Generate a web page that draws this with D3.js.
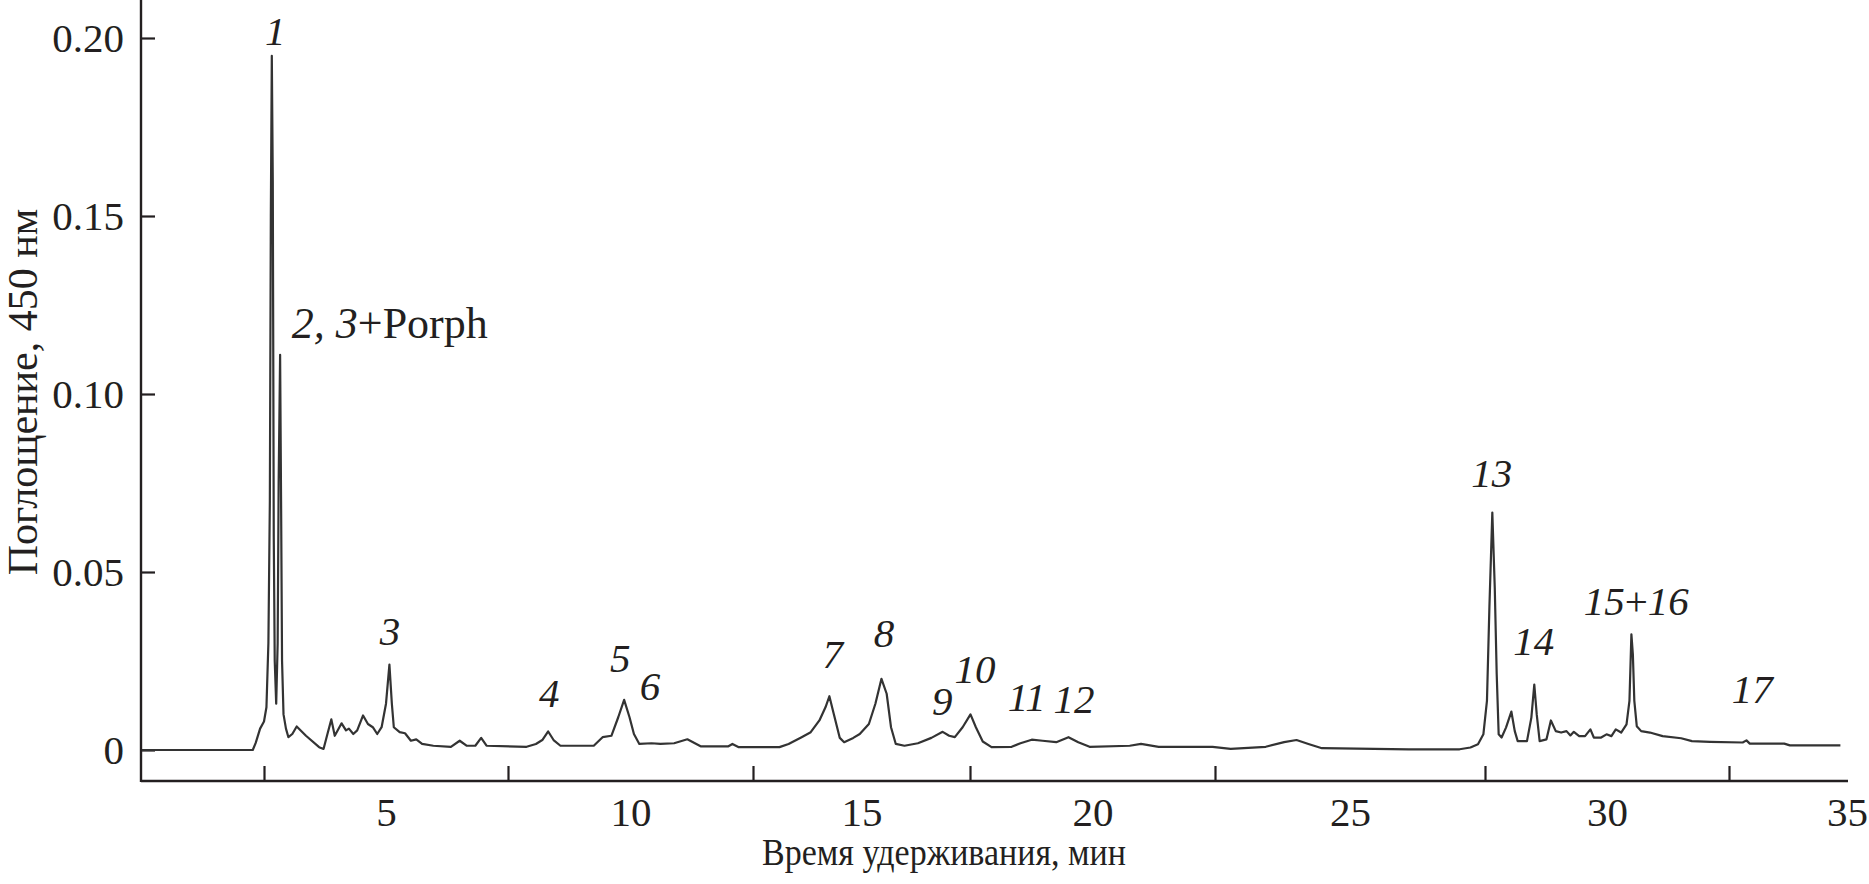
<!DOCTYPE html>
<html>
<head>
<meta charset="utf-8">
<script src="https://cdn.jsdelivr.net/npm/d3@7"></script>
<style>
  html, body { margin: 0; padding: 0; background: #fff; }
  svg { display: block; }
  text { font-family: "Liberation Serif", "Times New Roman", serif; fill: #231f20; }
</style>
</head>
<body>
<svg id="chart" width="1869" height="884"></svg>
<script>
// ---- data ----
const times = [0, 2.27, 2.33, 2.42, 2.5, 2.55, 2.59, 2.62, 2.64, 2.66, 2.68, 2.70, 2.72, 2.75, 2.78, 2.80, 2.83, 2.85, 2.87, 2.90, 2.95, 3.0, 3.08, 3.17, 3.36, 3.63, 3.72, 3.8, 3.88, 3.95, 4.09, 4.18, 4.24, 4.33, 4.41, 4.53, 4.63, 4.73, 4.82, 4.91, 5.0, 5.07, 5.12, 5.16, 5.28, 5.39, 5.51, 5.62, 5.74, 5.97, 6.33, 6.51, 6.65, 6.83, 6.95, 7.06, 7.88, 8.07, 8.2, 8.32, 8.43, 8.57, 9.25, 9.43, 9.61, 9.75, 9.87, 9.98, 10.07, 10.18, 10.43, 10.61, 10.89, 11.16, 11.44, 11.99, 12.08, 12.21, 13.11, 13.32, 13.62, 13.83, 14.03, 14.17, 14.26, 14.36, 14.5, 14.6, 14.81, 14.96, 15.17, 15.32, 15.46, 15.58, 15.68, 15.79, 15.99, 16.3, 16.61, 16.87, 17.02, 17.15, 17.33, 17.51, 17.62, 17.76, 17.94, 18.35, 18.53, 18.76, 18.98, 19.26, 19.51, 19.71, 19.94, 20.76, 20.99, 21.35, 22.45, 22.79, 23.44, 23.78, 24.01, 24.23, 24.48, 26.09, 27.03, 27.23, 27.37, 27.47, 27.54, 27.59, 27.65, 27.7, 27.74, 27.78, 27.84, 27.93, 28.04, 28.11, 28.17, 28.36, 28.45, 28.51, 28.56, 28.62, 28.76, 28.85, 28.95, 29.06, 29.17, 29.25, 29.32, 29.43, 29.55, 29.66, 29.73, 29.88, 29.99, 30.09, 30.18, 30.29, 30.4, 30.46, 30.5, 30.53, 30.56, 30.61, 30.7, 30.88, 31.14, 31.52, 31.74, 32.11, 32.79, 32.87, 32.94, 33.67, 33.79, 34.86];
const absorbance = [0, 0, 0.002, 0.006, 0.008, 0.012, 0.03, 0.07, 0.15, 0.195, 0.16, 0.06, 0.025, 0.013, 0.03, 0.075, 0.111, 0.07, 0.025, 0.01, 0.006, 0.0036, 0.0045, 0.0066, 0.004, 0.0008, 0.0003, 0.0045, 0.0086, 0.004, 0.0075, 0.0055, 0.006, 0.0045, 0.0055, 0.0097, 0.0073, 0.0064, 0.0045, 0.0064, 0.013, 0.024, 0.013, 0.0064, 0.005, 0.0047, 0.0026, 0.003, 0.0017, 0.0012, 0.0009, 0.0026, 0.0012, 0.0012, 0.0034, 0.0012, 0.0009, 0.0017, 0.0028, 0.0052, 0.0028, 0.0012, 0.0012, 0.0036, 0.004, 0.0092, 0.0141, 0.0092, 0.0045, 0.0017, 0.0019, 0.0017, 0.0019, 0.003, 0.001, 0.001, 0.0017, 0.0008, 0.0008, 0.0017, 0.0036, 0.005, 0.0083, 0.012, 0.0151, 0.0102, 0.0034, 0.0022, 0.0034, 0.0045, 0.0073, 0.013, 0.02, 0.0158, 0.0064, 0.0017, 0.0012, 0.0019, 0.0034, 0.0051, 0.004, 0.0036, 0.0064, 0.01, 0.0064, 0.0024, 0.0008, 0.0009, 0.0019, 0.0029, 0.0026, 0.0022, 0.0036, 0.0022, 0.0009, 0.0012, 0.0017, 0.0009, 0.0009, 0.0003, 0.0009, 0.0022, 0.0028, 0.0017, 0.0005, 0.0002, 0.0002, 0.0007, 0.0016, 0.0044, 0.0138, 0.04, 0.0667, 0.0456, 0.0213, 0.0044, 0.0035, 0.0063, 0.0108, 0.0053, 0.0025, 0.0025, 0.0091, 0.0184, 0.01, 0.0025, 0.003, 0.0083, 0.0053, 0.0049, 0.0053, 0.0041, 0.0051, 0.0039, 0.0039, 0.0058, 0.0035, 0.0035, 0.0044, 0.0039, 0.0058, 0.0049, 0.0072, 0.0138, 0.0325, 0.0269, 0.0138, 0.0067, 0.0053, 0.0049, 0.0039, 0.0033, 0.0025, 0.0023, 0.0021, 0.0027, 0.0018, 0.0018, 0.0013, 0.0013];

const xTickValues  = [2.5, 7.5, 12.5, 17.5, 22.5, 27.5, 32.5];
const xLabelValues = [5, 10, 15, 20, 25, 30, 35];
const yTickValues  = [0, 0.05, 0.10, 0.15, 0.20];

// peak annotations: text parts ([text, italic]), anchor time, anchor absorbance
const peakLabels = [
  [[["1", true]], 2.73, 0.198],
  [[["2, 3", true], ["+Porph", false]], 3.07, 0.1157],
  [[["3", true]], 5.08, 0.0295],
  [[["4", true]], 8.34, 0.0121],
  [[["5", true]], 9.79, 0.0219],
  [[["6", true]], 10.4, 0.014],
  [[["7", true]], 14.34, 0.023],
  [[["8", true]], 15.52, 0.0289],
  [[["9", true]], 16.86, 0.0098],
  [[["10", true]], 17.6, 0.0188],
  [[["11", true]], 18.66, 0.011],
  [[["12", true]], 19.62, 0.0104],
  [[["13", true]], 27.64, 0.0739],
  [[["14", true]], 28.5, 0.0267],
  [[["15", true], ["+", false], ["16", true]], 30.6, 0.0379],
  [[["17", true]], 32.99, 0.0132]
];

const xTitle = "Время удерживания, мин";
const yTitle = "Поглощение, 450 нм";

// ---- scales ----
const svg = d3.select("#chart");
const x = d3.scaleLinear()
  .domain([0, 2.5, 7.5, 12.5, 17.5, 22.5, 27.5, 32.5, 35])
  .range([142, 264, 508, 753, 970, 1215, 1485, 1729, 1847]);
const y = d3.scaleLinear().domain([0, 0.2]).range([750, 38]);

const axisColor = "#231f20";
const xAxisY = 781;
const yAxisX = 141;

// ---- axes ----
const yAxisG = svg.append("g").attr("transform", `translate(${yAxisX},0)`)
  .call(d3.axisLeft(y).tickValues(yTickValues).tickSizeInner(-14).tickSizeOuter(0)
    .tickPadding(17).tickFormat(d => d === 0 ? "0" : d3.format(".2f")(d)));
yAxisG.select(".domain").remove();
yAxisG.selectAll(".tick line").attr("stroke", axisColor).attr("stroke-width", 2.2);
yAxisG.selectAll(".tick text").attr("font-size", 41).attr("fill", axisColor).attr("dy", "0.34em");

const xTickG = svg.append("g").attr("transform", `translate(0,${xAxisY})`)
  .call(d3.axisBottom(x).tickValues(xTickValues).tickSizeInner(-15).tickSizeOuter(0).tickFormat(""));
xTickG.select(".domain").remove();
xTickG.selectAll(".tick line").attr("stroke", axisColor).attr("stroke-width", 2.2);

const xLabG = svg.append("g").attr("transform", `translate(0,${xAxisY})`)
  .call(d3.axisBottom(x).tickValues(xLabelValues).tickSize(0).tickPadding(16).tickFormat(d3.format("d")));
xLabG.select(".domain").remove();
xLabG.selectAll(".tick text").attr("font-size", 41).attr("fill", axisColor);

// axis lines
svg.append("line").attr("x1", yAxisX).attr("x2", yAxisX).attr("y1", 0).attr("y2", xAxisY + 1)
  .attr("stroke", axisColor).attr("stroke-width", 2.4);
svg.append("line").attr("x1", yAxisX).attr("x2", x(35) + 1).attr("y1", xAxisY).attr("y2", xAxisY)
  .attr("stroke", axisColor).attr("stroke-width", 2.4);

// ---- trace ----
const pts = times.map((t, i) => [t, absorbance[i]]);
svg.append("path").datum(pts)
  .attr("fill", "none")
  .attr("stroke", "#333333")
  .attr("stroke-width", 2.2)
  .attr("stroke-linejoin", "round")
  .attr("d", d3.line().x(d => x(d[0])).y(d => y(d[1])));

// ---- peak labels ----
peakLabels.forEach(([parts, t, v], i) => {
  const txt = svg.append("text")
    .attr("x", x(t)).attr("y", y(v))
    .attr("font-size", i === 1 ? 44 : 41)
    .attr("text-anchor", i === 1 ? "start" : "middle");
  parts.forEach(([s, it]) => {
    txt.append("tspan").text(s).attr("font-style", it ? "italic" : "normal");
  });
});

// ---- titles ----
svg.append("text").attr("x", 944).attr("y", 865).attr("text-anchor", "middle")
  .attr("font-size", 37).attr("textLength", 364).attr("lengthAdjust", "spacingAndGlyphs")
  .text(xTitle);
svg.append("text").attr("transform", "translate(37,392) rotate(-90)")
  .attr("text-anchor", "middle").attr("font-size", 42).text(yTitle);
</script>
</body>
</html>
